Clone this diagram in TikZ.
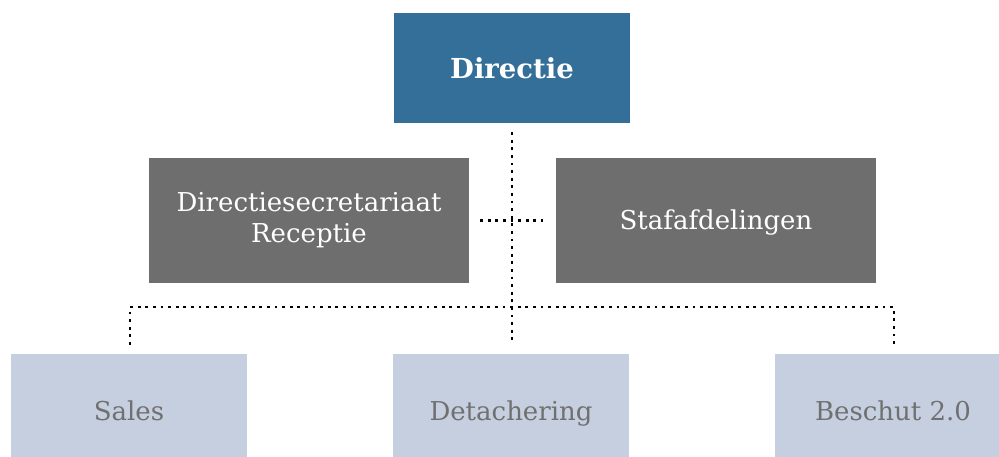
\documentclass[tikz,border=0pt]{standalone}
\usepackage{fontspec}
\setmainfont{DejaVu Serif}
\definecolor{dirblue}{HTML}{336F99}
\definecolor{midgray}{HTML}{6E6E6E}
\definecolor{lowblue}{HTML}{C6CFE0}
\definecolor{lowtext}{HTML}{707070}
\begin{document}
\begin{tikzpicture}[x=1pt,y=-1pt,
  box/.style={rectangle,inner sep=0pt,draw=none,align=center},
  topbox/.style={box,fill=dirblue,text=white,minimum width=236pt,minimum height=110pt,font=\fontsize{27.5}{32}\selectfont\bfseries},
  midbox/.style={box,fill=midgray,text=white,minimum width=320pt,minimum height=125pt,font=\fontsize{26}{31}\selectfont},
  lowbox/.style={box,fill=lowblue,text=lowtext,minimum width=236pt,minimum height=114pt,text height=19pt,text depth=0pt,font=\fontsize{26}{31}\selectfont},
  dotline/.style={draw=black,line width=2.8pt,dash pattern=on 2.8pt off 4.8pt}]
\clip (0,0) rectangle (999,457);
\node[topbox] (dir) at (512,68) {Directie};
\node[midbox] (sec) at (309,220.5) {Directiesecretariaat\\Receptie};
\node[midbox,text height=19pt,text depth=0pt] (staf) at (716,220.5) {Stafafdelingen};
\node[lowbox] (sales) at (129,411) {Sales};
\node[lowbox] (det) at (511,411) {Detachering};
\node[lowbox] (besch) at (893,411) {Beschut 2.0};
\coordinate (bus) at (512,307);
\draw[dotline] ([yshift=-9pt]dir.south) -- ([yshift=9pt,xshift=1pt]det.north);
\draw[dotline] ([xshift=11pt]sec.east) -- ([xshift=-13pt]staf.west);
\draw[dotline] ([yshift=9pt,xshift=1pt]sales.north) |- (bus) -| ([yshift=9pt,xshift=1pt]besch.north);
\end{tikzpicture}
\end{document}
